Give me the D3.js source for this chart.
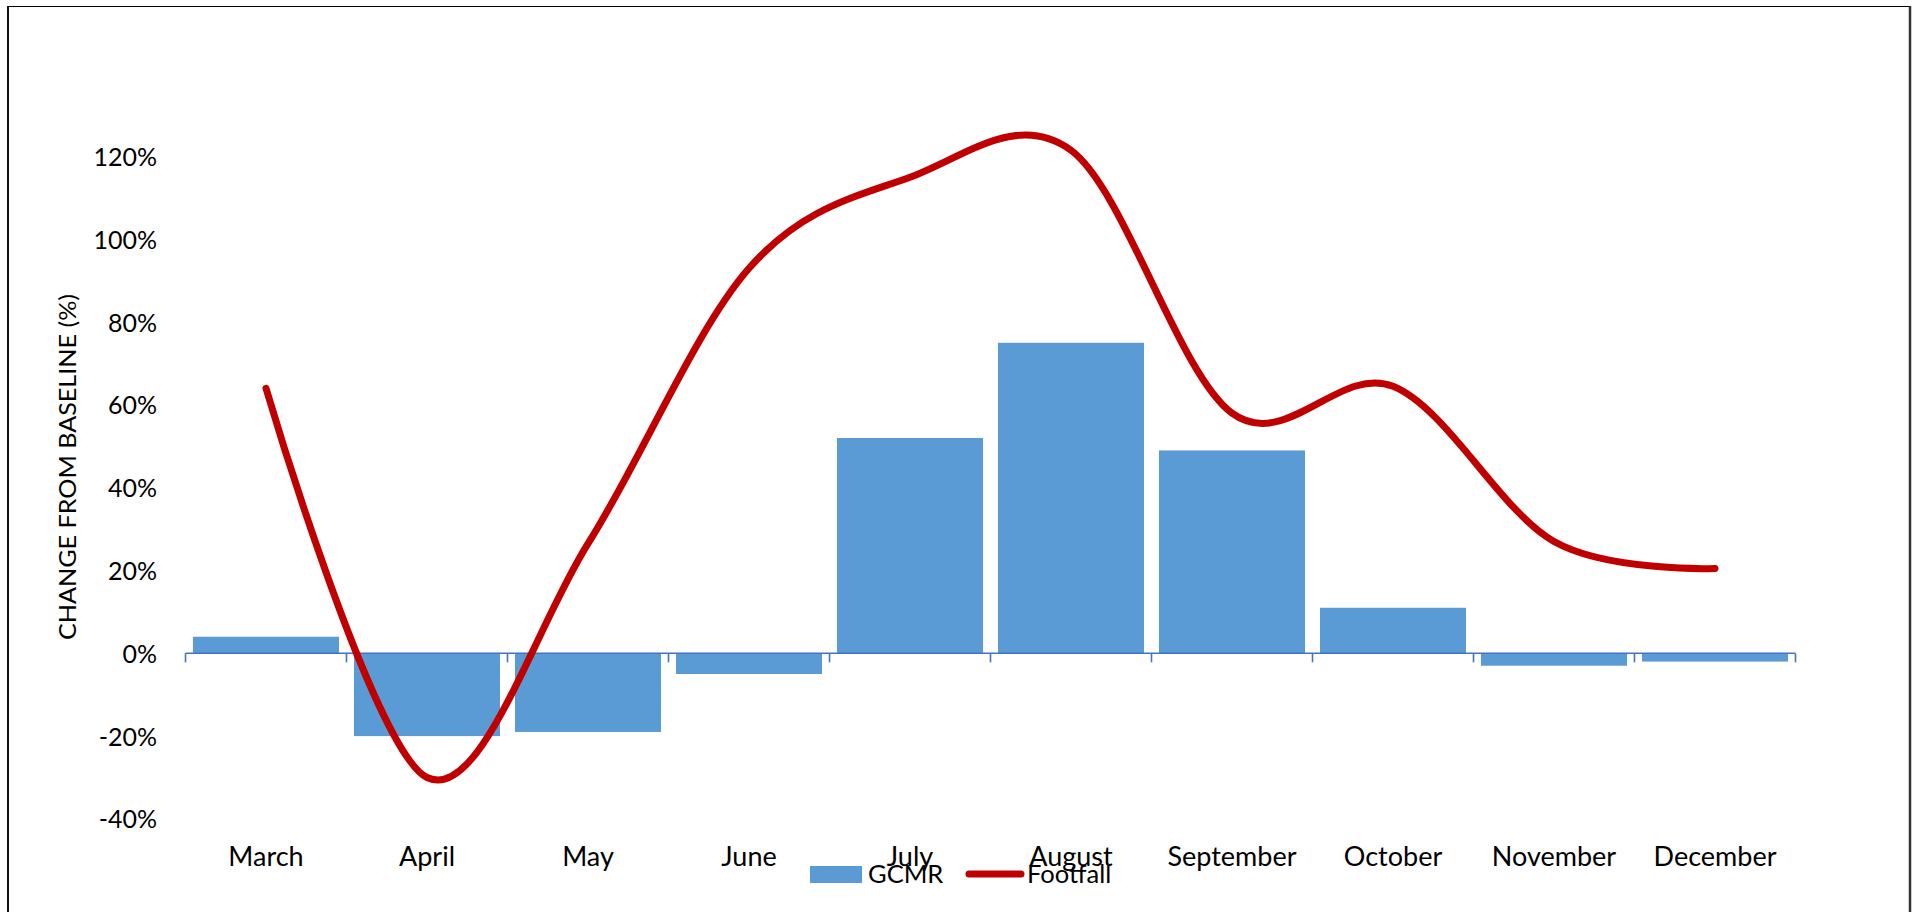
<!DOCTYPE html>
<html>
<head>
<meta charset="utf-8">
<script src="https://cdn.jsdelivr.net/npm/d3@7"></script>
<style>
  html, body { margin: 0; padding: 0; background: #ffffff; overflow: hidden; }
  svg { display: block; }
  text { font-family: Lato, "Open Sans", sans-serif; fill: #000000; }
</style>
</head>
<body>
<svg id="chart" width="1915" height="912"></svg>
<script>
// Monthly change from baseline, in percent
const months = ["March", "April", "May", "June", "July", "August", "September", "October", "November", "December"];
const gcmr = [4, -20, -19, -5, 52, 75, 49, 11, -3, -2];
const footfall = [64, -30, 26.5, 93, 115, 121.5, 58, 64.5, 27, 20.5];
const yTicks = [-40, -20, 0, 20, 40, 60, 80, 100, 120];
const seriesNames = ["GCMR", "Footfall"];

const svg = d3.select("#chart");

// Outer frame
svg.append("line").attr("x1", 7).attr("x2", 1911).attr("y1", 6.5).attr("y2", 6.5)
  .attr("stroke", "#000").attr("stroke-width", 1);
svg.append("line").attr("x1", 8).attr("x2", 8).attr("y1", 6).attr("y2", 912)
  .attr("stroke", "#111").attr("stroke-width", 2);
svg.append("line").attr("x1", 1910).attr("x2", 1910).attr("y1", 6).attr("y2", 912)
  .attr("stroke", "#333").attr("stroke-width", 2.5);

// Scales
const x = d3.scaleBand().domain(months).range([185.5, 1795.5])
  .paddingInner(0.093).paddingOuter(0.0465);
const y = d3.scaleLinear().domain([-40, 120]).range([818.9, 156.5]);

// Y axis labels
const yAxis = svg.append("g").attr("transform", "translate(157,0)")
  .call(d3.axisLeft(y).tickValues(yTicks).tickSize(0).tickPadding(0).tickFormat(d => d + "%"));
yAxis.select(".domain").remove();
yAxis.selectAll("text").attr("x", 0).attr("dy", "0.36em")
  .style("font-family", "Lato, 'Open Sans', sans-serif").style("font-size", "25px").attr("fill", "#000");

// Y axis title
svg.append("text")
  .attr("transform", "translate(68,467) rotate(-90)")
  .attr("text-anchor", "middle").attr("dy", "0.36em")
  .attr("textLength", 346).attr("lengthAdjust", "spacingAndGlyphs")
  .style("font-size", "23px")
  .text("CHANGE FROM BASELINE (%)");

// GCMR bars
svg.append("g").selectAll("rect").data(months).join("rect")
  .attr("x", d => x(d))
  .attr("width", x.bandwidth())
  .attr("y", (d, i) => y(Math.max(0, gcmr[i])))
  .attr("height", (d, i) => Math.abs(y(gcmr[i]) - y(0)))
  .attr("fill", "#5B9BD5");

// Category axis line with boundary ticks
const y0 = y(0);
const [r0, r1] = x.range();
svg.append("line").attr("x1", r0).attr("x2", r1).attr("y1", y0).attr("y2", y0)
  .attr("stroke", "#4472C4").attr("stroke-width", 1.6);
const bounds = d3.range(months.length + 1).map(i => r0 + i * x.step());
svg.append("g").selectAll("line").data(bounds).join("line")
  .attr("x1", d => d).attr("x2", d => d).attr("y1", y0).attr("y2", y0 + 9)
  .attr("stroke", "#4472C4").attr("stroke-width", 1.6);

// Month labels
const xAxis = svg.append("g").attr("transform", `translate(0,${y0})`)
  .call(d3.axisBottom(x).tickSize(0));
xAxis.select(".domain").remove();
xAxis.selectAll("text").attr("y", 866 - y0).attr("dy", 0)
  .style("font-family", "Lato, 'Open Sans', sans-serif").style("font-size", "27px").attr("fill", "#000");

// Footfall smoothed line
const line = d3.line()
  .x((d, i) => x(months[i]) + x.bandwidth() / 2)
  .y(d => y(d))
  .curve(d3.curveCardinal.tension(0));
svg.append("path").datum(footfall)
  .attr("d", line)
  .attr("fill", "none").attr("stroke", "#C00000").attr("stroke-width", 7)
  .attr("stroke-linecap", "round").attr("stroke-linejoin", "round");

// Legend
const lg = svg.append("g");
lg.append("rect").attr("x", 810).attr("y", 866).attr("width", 52).attr("height", 17).attr("fill", "#5B9BD5");
lg.append("text").attr("x", 868).attr("y", 883).style("font-size", "25.5px").text(seriesNames[0]);
lg.append("line").attr("x1", 969).attr("x2", 1021).attr("y1", 874).attr("y2", 874)
  .attr("stroke", "#C00000").attr("stroke-width", 7).attr("stroke-linecap", "round");
lg.append("text").attr("x", 1027).attr("y", 883).style("font-size", "25.5px").text(seriesNames[1]);
</script>
</body>
</html>
